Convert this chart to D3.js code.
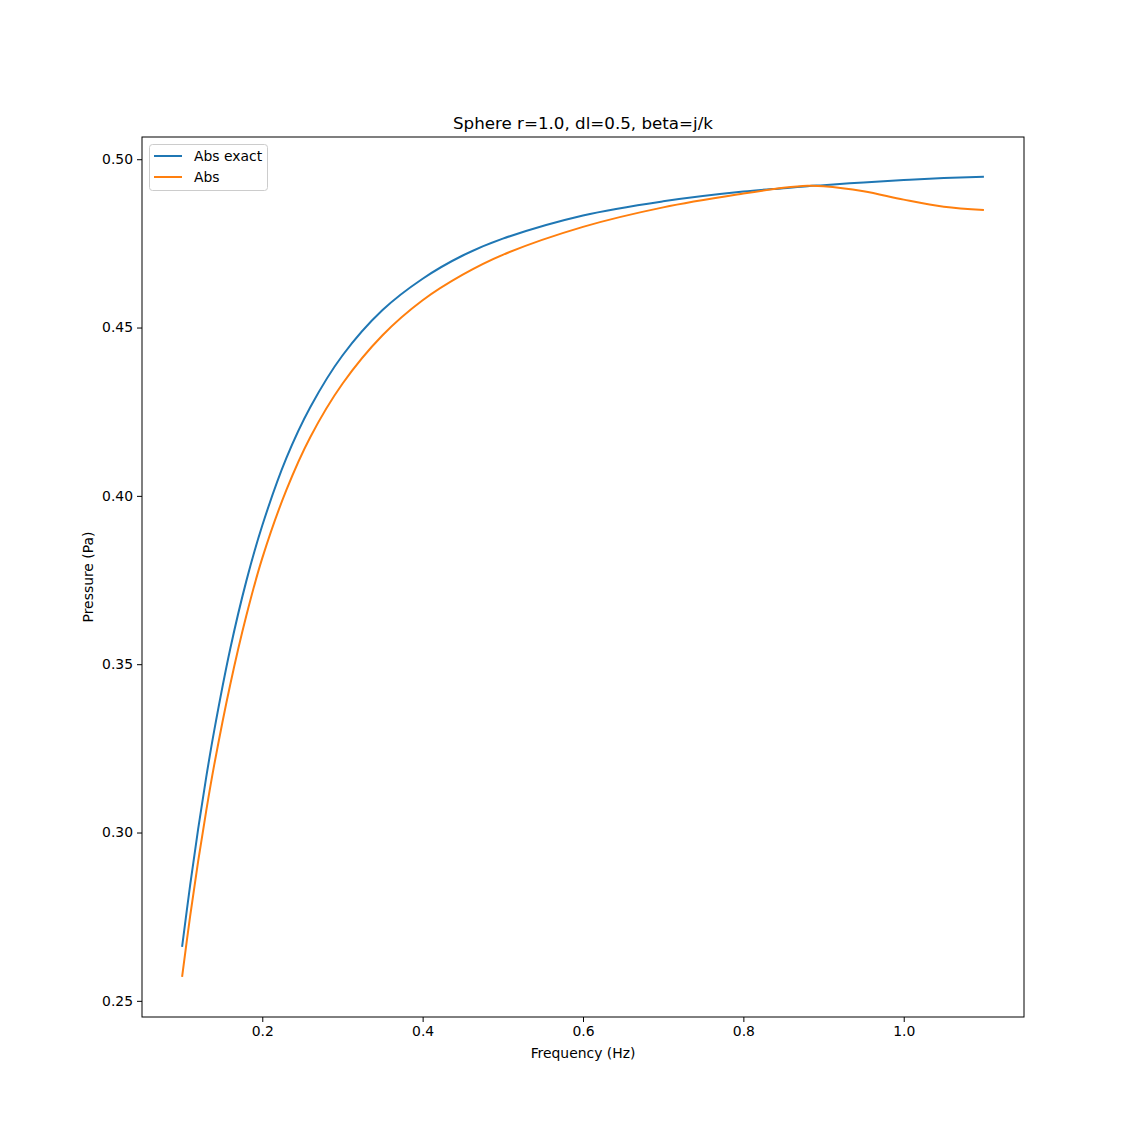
<!DOCTYPE html>
<html>
<head>
<meta charset="utf-8">
<script src="https://cdn.jsdelivr.net/npm/d3@7"></script>
<style>
  html, body { margin: 0; padding: 0; background: #fff; }
  svg { display: block; }
  text { font-family: "DejaVu Sans", sans-serif; fill: #000; }
</style>
</head>
<body>
<script>
// Data
const frequency = [0.10, 0.11, 0.12, 0.13, 0.14, 0.16, 0.18, 0.20, 0.23, 0.26, 0.30, 0.35, 0.40, 0.45, 0.50, 0.60, 0.70, 0.80, 0.85, 0.88, 0.90, 0.95, 1.00, 1.05, 1.10];
const absExact  = [0.2660, 0.2843, 0.3010, 0.3163, 0.3302, 0.3545, 0.3746, 0.3912, 0.4112, 0.4264, 0.4417, 0.4552, 0.4645, 0.4714, 0.4764, 0.4833, 0.4875, 0.4904, 0.4914, 0.4920, 0.4923, 0.4931, 0.4938, 0.4944, 0.4948];
const absApprox = [0.2571, 0.2751, 0.2914, 0.3063, 0.3200, 0.3439, 0.3643, 0.3815, 0.4017, 0.4175, 0.4333, 0.4477, 0.4581, 0.4657, 0.4716, 0.4799, 0.4857, 0.4898, 0.4915, 0.4921, 0.4920, 0.4905, 0.4880, 0.4859, 0.4849];
const seriesNames = ["Abs exact", "Abs"];
const seriesColors = ["#1f77b4", "#ff7f0e"];
const xTicks = [0.2, 0.4, 0.6, 0.8, 1.0];
const yTicks = [0.25, 0.30, 0.35, 0.40, 0.45, 0.50];
const titleText = "Sphere r=1.0, dl=0.5, beta=j/k";
const xLabel = "Frequency (Hz)";
const yLabel = "Pressure (Pa)";

const W = 1137, H = 1143;
const m = { left: 142, right: 1024, top: 137, bottom: 1017 };

const svg = d3.select("body").append("svg").attr("width", W).attr("height", H);

const x = d3.scaleLinear().domain([0.05, 1.15]).range([m.left, m.right]);
const y = d3.scaleLinear().domain([0.2452, 0.5066]).range([m.bottom, m.top]);

const series = [absExact, absApprox];
const line = d3.line()
  .x((d, i) => x(frequency[i]))
  .y(d => y(d))
  .curve(d3.curveCatmullRom.alpha(0.5));

const plot = svg.append("g");
series.forEach((s, k) => {
  plot.append("path")
    .datum(s)
    .attr("fill", "none")
    .attr("stroke", seriesColors[k])
    .attr("stroke-width", 2)
    .attr("stroke-linejoin", "round")
    .attr("stroke-linecap", "butt")
    .attr("d", line);
});

// axes
const xAxis = d3.axisBottom(x).tickValues(xTicks).tickFormat(d3.format(".1f")).tickSizeOuter(0).tickSize(5).tickPadding(4);
const yAxis = d3.axisLeft(y).tickValues(yTicks).tickFormat(d3.format(".2f")).tickSizeOuter(0).tickSize(5).tickPadding(4);

const gx = svg.append("g").attr("transform", `translate(0,${m.bottom})`).call(xAxis);
const gy = svg.append("g").attr("transform", `translate(${m.left},0)`).call(yAxis);
[gx, gy].forEach(g => {
  g.select(".domain").remove();
  g.selectAll("line").attr("stroke", "#000").attr("stroke-width", 1);
  g.selectAll("text").attr("font-size", "13.9px").attr("font-family", "DejaVu Sans, sans-serif").attr("fill", "#000");
});

// frame
svg.append("rect")
  .attr("x", m.left).attr("y", m.top)
  .attr("width", m.right - m.left).attr("height", m.bottom - m.top)
  .attr("fill", "none").attr("stroke", "#000").attr("stroke-width", 1);

// title and labels
svg.append("text").attr("x", (m.left + m.right) / 2).attr("y", 129)
  .attr("text-anchor", "middle").attr("font-size", "16.7px").text(titleText);
svg.append("text").attr("x", (m.left + m.right) / 2).attr("y", 1058)
  .attr("text-anchor", "middle").attr("font-size", "13.9px").text(xLabel);
svg.append("text").attr("transform", `translate(93,${(m.top + m.bottom) / 2}) rotate(-90)`)
  .attr("text-anchor", "middle").attr("font-size", "13.9px").text(yLabel);

// legend
const lg = svg.append("g").attr("transform", `translate(149,144)`);
lg.append("rect").attr("x", 0.5).attr("y", 0.5).attr("width", 118).attr("height", 46)
  .attr("rx", 3).attr("fill", "#fff").attr("fill-opacity", 0.8)
  .attr("stroke", "#cccccc").attr("stroke-width", 1);
seriesNames.forEach((name, k) => {
  const yy = 12 + k * 21;
  lg.append("line").attr("x1", 5).attr("x2", 33).attr("y1", yy).attr("y2", yy)
    .attr("stroke", seriesColors[k]).attr("stroke-width", 2);
  lg.append("text").attr("x", 45).attr("y", yy).attr("dy", "0.35em")
    .attr("font-size", "13.9px").text(name);
});
</script>
</body>
</html>
